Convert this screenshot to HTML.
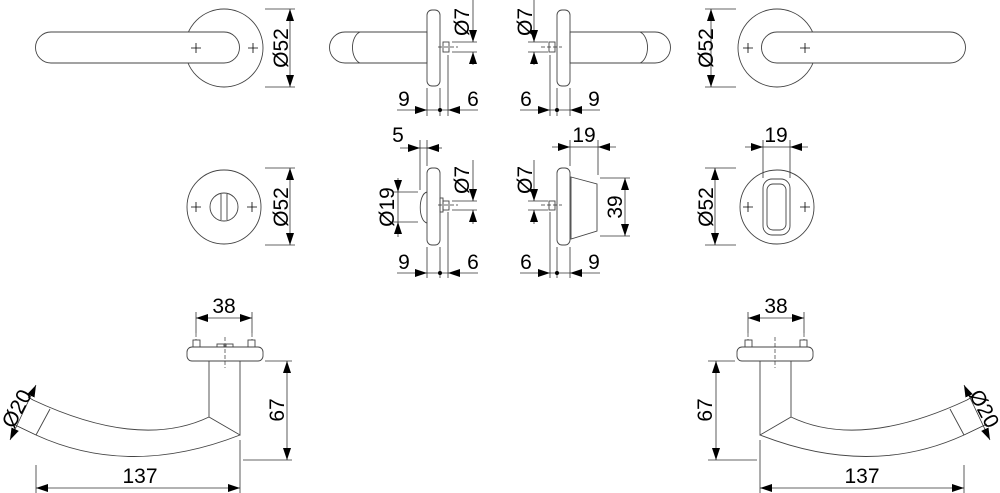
<!DOCTYPE html>
<html><head><meta charset="utf-8"><style>
html,body{margin:0;padding:0;background:#fff;}
svg{display:block}
text{font-family:"Liberation Sans",sans-serif;font-size:21px;fill:#000}
</style></head><body>
<svg width="1000" height="493" viewBox="0 0 1000 493" xmlns="http://www.w3.org/2000/svg">
<defs>
<marker id="a" markerUnits="userSpaceOnUse" markerWidth="12" markerHeight="8" refX="12" refY="4" orient="auto"><path d="M0,0L12,4L0,8z" fill="#000"/></marker>
<marker id="b" markerUnits="userSpaceOnUse" markerWidth="12" markerHeight="8" refX="0" refY="4" orient="auto"><path d="M12,0L0,4L12,8z" fill="#000"/></marker>
<g id="cross"><path d="M-5,0H5M0,-5V5" stroke="#000" stroke-width="0.8"/></g>
</defs>
<g fill="none" stroke="#444" stroke-width="0.9">
<circle cx="224" cy="48" r="39" fill="#fff"/>
<path d="M51,32H224A15.5,15.5 0 0 1 224,63H51A15.5,15.5 0 0 1 51,32Z" fill="#fff"/>
<circle cx="777" cy="48" r="39" fill="#fff"/>
<path d="M950,32H777A15.5,15.5 0 0 0 777,63H950A15.5,15.5 0 0 0 950,32Z" fill="#fff"/>
<path d="M345,32H427V63H345A15.5,15.5 0 0 1 345,32Z"/>
<path d="M360,32A10,16 0 0 0 360,63"/>
<rect x="427" y="10" width="13" height="76" rx="5"/>
<rect x="443" y="42" width="6" height="10"/>
<path d="M655,32H570V63H655A15.5,15.5 0 0 0 655,32Z"/>
<path d="M640,32A10,16 0 0 1 640,63"/>
<rect x="557" y="10" width="13" height="76" rx="5"/>
<rect x="549" y="42" width="6" height="10"/>
<circle cx="224" cy="207" r="37"/>
<circle cx="224" cy="207" r="14"/>
<path d="M221,194V220M227,194V220"/>
<circle cx="777" cy="207" r="37"/>
<rect x="763" y="179" width="27" height="56" rx="9"/>
<rect x="767" y="184" width="19" height="46" rx="6"/>
<rect x="427" y="168" width="13" height="77" rx="5"/>
<path d="M427,192C418,194 418,221 427,223"/>
<rect x="440" y="198" width="3" height="14"/>
<rect x="443" y="201" width="6" height="9"/>
<rect x="557" y="168" width="13" height="77" rx="5"/>
<rect x="549" y="201" width="6" height="9"/>
<path d="M571,177L597,184V231L571,239Z"/>
<rect x="187" y="347" width="76" height="14" rx="5"/>
<rect x="193" y="340" width="7" height="7"/><rect x="248" y="340" width="7" height="7"/>
<rect x="217" y="344" width="7" height="3"/><rect x="226" y="344" width="7" height="3"/>
<path d="M209,361V417L240,435V361"/>
<path d="M33,400Q140,450 209,417"/>
<path d="M36,435Q130,478 240,435"/>
<path d="M50,409L36,435"/>
<g transform="translate(1000,0) scale(-1,1)">
<rect x="187" y="347" width="76" height="14" rx="5"/>
<rect x="193" y="340" width="7" height="7"/><rect x="248" y="340" width="7" height="7"/>
<path d="M209,361V417L240,435V361"/>
<path d="M33,400Q140,450 209,417"/>
<path d="M36,435Q130,478 240,435"/>
<path d="M50,409L36,435"/>
</g>
</g>
<use href="#cross" x="196" y="48"/><use href="#cross" x="253" y="48"/>
<use href="#cross" x="748" y="48"/><use href="#cross" x="805" y="48"/>
<use href="#cross" x="196" y="207"/><use href="#cross" x="252" y="207"/>
<use href="#cross" x="748" y="207"/><use href="#cross" x="805" y="207"/>
<g stroke="#333" stroke-width="0.7" stroke-dasharray="4,2" fill="none">
<path d="M438,47H458M541,47H562M438,205H458M541,205H562"/>
<path d="M225,337V368M775,337V368M196,333V340M252,333V340M748,333V340M804,333V340"/>
</g>
<g stroke="#333" stroke-width="0.8" fill="none">
<path d="M265,9H295M265,87H295"/>
<path d="M290,9V87" marker-start="url(#b)" marker-end="url(#a)"/>
<path d="M705,9H736M705,87H736"/>
<path d="M711,9V87" marker-start="url(#b)" marker-end="url(#a)"/>
<path d="M452,42H477M452,52H477"/>
<path d="M473,0V42" marker-end="url(#a)"/><path d="M473,65V52" marker-end="url(#a)"/>
<path d="M427,88V116M440,88V116M448,55V116"/>
<path d="M397,110H427" marker-end="url(#a)"/><path d="M478,110H448" marker-end="url(#a)"/><path d="M427,110H448"/>
<path d="M528,42H548M528,52H548"/>
<path d="M534,0V42" marker-end="url(#a)"/><path d="M534,65V52" marker-end="url(#a)"/>
<path d="M570,88V116M557,88V116M550,55V116"/>
<path d="M520,110H550" marker-end="url(#a)"/><path d="M600,110H570" marker-end="url(#a)"/><path d="M550,110H570"/>
<path d="M265,168H295M265,245H295"/>
<path d="M290,168V245" marker-start="url(#b)" marker-end="url(#a)"/>
<path d="M705,168H736M705,245H736"/>
<path d="M715,168V245" marker-start="url(#b)" marker-end="url(#a)"/>
<path d="M763,140V178M790,140V178"/>
<path d="M745,147H763" marker-end="url(#a)"/><path d="M808,147H790" marker-end="url(#a)"/><path d="M763,147H790"/>
<path d="M420,140V190M427,140V166"/>
<path d="M400,148H420" marker-end="url(#a)"/><path d="M442,148H427" marker-end="url(#a)"/><path d="M420,148H427"/>
<path d="M393,192H418M393,222H418"/>
<path d="M398,178V192" marker-end="url(#a)"/><path d="M398,237V222" marker-end="url(#a)"/><path d="M398,192V222"/>
<path d="M452,201H477M452,210H477"/>
<path d="M473,160V201" marker-end="url(#a)"/><path d="M473,224V210" marker-end="url(#a)"/>
<path d="M427,247V278M440,247V278M448,212V278"/>
<path d="M397,273H427" marker-end="url(#a)"/><path d="M478,273H448" marker-end="url(#a)"/><path d="M427,273H448"/>
<path d="M528,201H548M528,210H548"/>
<path d="M534,160V201" marker-end="url(#a)"/><path d="M534,224V210" marker-end="url(#a)"/>
<path d="M570,140V166M598,140V175"/>
<path d="M552,147H570" marker-end="url(#a)"/><path d="M616,147H598" marker-end="url(#a)"/><path d="M570,147H598"/>
<path d="M600,178H630M600,236H630"/>
<path d="M625,178V236" marker-start="url(#b)" marker-end="url(#a)"/>
<path d="M570,247V278M557,247V278M550,212V278"/>
<path d="M520,273H550" marker-end="url(#a)"/><path d="M600,273H570" marker-end="url(#a)"/><path d="M550,273H570"/>
<path d="M196,312V333M252,312V333"/>
<path d="M196,318H252" marker-start="url(#b)" marker-end="url(#a)"/>
<path d="M265,361H292M243,460H292"/>
<path d="M287,361V460" marker-start="url(#b)" marker-end="url(#a)"/>
<path d="M36,465V493M240,440V493"/>
<path d="M36,488H240" marker-start="url(#b)" marker-end="url(#a)"/>
<path d="M33,400L28,397M36,435L13,424"/>
<path d="M36,385L10,440" marker-start="url(#b)" marker-end="url(#a)"/>
<path d="M748,312V333M804,312V333"/>
<path d="M748,318H804" marker-start="url(#b)" marker-end="url(#a)"/>
<path d="M708,361H735M708,460H757"/>
<path d="M716,361V460" marker-start="url(#b)" marker-end="url(#a)"/>
<path d="M964,465V493M760,440V493"/>
<path d="M760,488H964" marker-start="url(#b)" marker-end="url(#a)"/>
<path d="M967,400L972,397M964,435L987,424"/>
<path d="M964,385L990,440" marker-start="url(#b)" marker-end="url(#a)"/>
</g>
<g fill="#000">
<circle cx="440" cy="110" r="2"/><circle cx="557" cy="110" r="2"/>
<circle cx="440" cy="273" r="2"/><circle cx="557" cy="273" r="2"/>
</g>
<text transform="translate(288,48) rotate(-90)" text-anchor="middle">Ø52</text>
<text transform="translate(713,48) rotate(-90)" text-anchor="middle">Ø52</text>
<text transform="translate(469,22) rotate(-90)" text-anchor="middle">Ø7</text>
<text transform="translate(532,22) rotate(-90)" text-anchor="middle">Ø7</text>
<text x="404" y="106" text-anchor="middle">9</text><text x="473" y="106" text-anchor="middle">6</text>
<text x="526" y="106" text-anchor="middle">6</text><text x="594" y="106" text-anchor="middle">9</text>
<text transform="translate(288,207) rotate(-90)" text-anchor="middle">Ø52</text>
<text transform="translate(713,207) rotate(-90)" text-anchor="middle">Ø52</text>
<text x="776" y="142" text-anchor="middle">19</text>
<text x="398" y="142" text-anchor="middle">5</text>
<text transform="translate(394,207) rotate(-90)" text-anchor="middle">Ø19</text>
<text transform="translate(469,180) rotate(-90)" text-anchor="middle">Ø7</text>
<text transform="translate(532,180) rotate(-90)" text-anchor="middle">Ø7</text>
<text x="584" y="142" text-anchor="middle">19</text>
<text transform="translate(622,207) rotate(-90)" text-anchor="middle">39</text>
<text x="404" y="269" text-anchor="middle">9</text><text x="473" y="269" text-anchor="middle">6</text>
<text x="526" y="269" text-anchor="middle">6</text><text x="594" y="269" text-anchor="middle">9</text>
<text x="224" y="313" text-anchor="middle">38</text>
<text x="776" y="313" text-anchor="middle">38</text>
<text transform="translate(284,410) rotate(-90)" text-anchor="middle">67</text>
<text transform="translate(712,410) rotate(-90)" text-anchor="middle">67</text>
<text x="140" y="483" text-anchor="middle">137</text>
<text x="862" y="483" text-anchor="middle">137</text>
<text transform="translate(23,412) rotate(-62)" text-anchor="middle">Ø20</text>
<text transform="translate(978,412) rotate(62)" text-anchor="middle">Ø20</text>
</svg>
</body></html>
